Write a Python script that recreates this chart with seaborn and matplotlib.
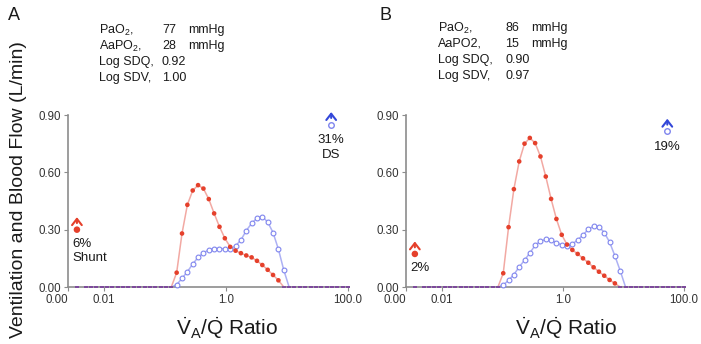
import numpy as np
import pandas as pd
import matplotlib
matplotlib.use("Agg")
import matplotlib.pyplot as plt
import seaborn as sns

# ---------------- data ----------------
# MIGET compartment grid (V/Q ratios)
vaq = np.logspace(np.log10(0.005), 2, 50)

# Panel A: blood flow (Q, red) and ventilation (V, blue), L/min
q_a = [0, 0, 0, 0, 0, 0, 0, 0, 0, 0, 0, 0, 0, 0, 0, 0, 0,
       0.075, 0.28, 0.43, 0.505, 0.533, 0.515, 0.46, 0.385, 0.315, 0.255,
       0.21, 0.19, 0.177, 0.165, 0.155, 0.137, 0.115, 0.09, 0.063, 0.035,
       0, 0, 0, 0, 0, 0, 0, 0, 0, 0, 0, 0, 0]
v_a = [0, 0, 0, 0, 0, 0, 0, 0, 0, 0, 0, 0, 0, 0, 0, 0, 0,
       0.012, 0.045, 0.08, 0.12, 0.155, 0.178, 0.195, 0.201, 0.201, 0.2,
       0.2, 0.215, 0.246, 0.295, 0.333, 0.36, 0.368, 0.34, 0.285, 0.198,
       0.089, 0, 0, 0, 0, 0, 0, 0, 0, 0, 0, 0, 0]
# Panel B
q_b = [0, 0, 0, 0, 0, 0, 0, 0, 0, 0, 0, 0, 0, 0, 0,
       0.072, 0.313, 0.512, 0.657, 0.75, 0.78, 0.753, 0.683, 0.578, 0.461,
       0.356, 0.273, 0.222, 0.194, 0.173, 0.150, 0.127, 0.103, 0.080, 0.059,
       0.037, 0.019, 0, 0, 0, 0, 0, 0, 0, 0, 0, 0, 0, 0, 0]
v_b = [0, 0, 0, 0, 0, 0, 0, 0, 0, 0, 0, 0, 0, 0, 0,
       0.01, 0.035, 0.065, 0.105, 0.14, 0.178, 0.218, 0.24, 0.249, 0.244,
       0.232, 0.22, 0.215, 0.225, 0.246, 0.272, 0.302, 0.318, 0.316, 0.285,
       0.235, 0.163, 0.085, 0, 0, 0, 0, 0, 0, 0, 0, 0, 0, 0, 0]

panel_letters = ["A", "B"]
stat_labels = [["PaO$_2$,", "AaPO$_2$,", "Log SDQ,", "Log SDV,"],
               ["PaO$_2$,", "AaPO2,", "Log SDQ,", "Log SDV,"]]
stat_values = [["77", "28", "0.92", "1.00"],
               ["86", "15", "0.90", "0.97"]]
stat_units = [["mmHg", "mmHg", "", ""],
              ["mmHg", "mmHg", "", ""]]
shunt_text = ["6%\nShunt", "2%"]
ds_text = ["31%\nDS", "19%"]
shunt_marker_y = [0.30, 0.173]
ds_marker_y = [0.85, 0.815]
shunt_x = 0.0036
ds_x = 53.0
x_left = 10 ** -2.59
xticks = [x_left, 0.01, 1.0, 100.0]
xticklabels = ["0.00", "0.01", "1.0", "100.0"]
yticks = [0.0, 0.3, 0.6, 0.9]
yticklabels = ["0.00", "0.30", "0.60", "0.90"]

# ---------------- style ----------------
sns.set_style("ticks")
plt.rcParams["font.family"] = ["Liberation Sans", "DejaVu Sans"]
plt.rcParams["mathtext.fontset"] = "custom"
plt.rcParams["mathtext.rm"] = "Liberation Sans"
plt.rcParams["mathtext.it"] = "Liberation Sans"
plt.rcParams["mathtext.bf"] = "Liberation Sans:bold"

RED_LINE = "#f2a9a3"
RED_MK = "#e5402b"
BLUE_LINE = "#adb1f4"
BLUE_MK = "#7f85ee"
BLUE_ARROW = "#3347d9"
ZERO_MK = "#7d4a9c"
AXIS_C = "#8c8c8c"
TXT = "#1a1a1a"

W, H = 701, 344
fig = plt.figure(figsize=(W / 100, H / 100), dpi=100)

axes_px = [(68, 280), (406, 278)]
series = [(q_a, v_a), (q_b, v_b)]
stat_x_px = [(99, 162, 188), (438, 505, 531)]
stat_y_px = [(30, 46, 62, 78), (28, 44, 60, 76)]
letter_px = [(14, 15), (385, 15)]
xlabel_px = [227, 566]

for i in range(2):
    q, v = series[i]
    left_px, width_px = axes_px[i]
    ax = fig.add_axes([left_px / W, (H - 287) / H, width_px / W, 172 / H])
    df = pd.DataFrame({"vaq": vaq, "Q": q, "V": v})

    sns.lineplot(data=df, x="vaq", y="Q", color=RED_LINE, lw=1.1, ax=ax, zorder=2)
    sns.lineplot(data=df, x="vaq", y="V", color=BLUE_LINE, lw=1.1, ax=ax, zorder=2)

    # zero-valued compartments along the baseline
    sns.scatterplot(data=df[df["V"] == 0], x="vaq", y="V", marker="_", s=8,
                    color=ZERO_MK, linewidth=1.3, ax=ax, zorder=4, clip_on=False)
    sns.scatterplot(data=df[df["Q"] == 0], x="vaq", y="Q", marker="_", s=8,
                    color=ZERO_MK, linewidth=1.3, ax=ax, zorder=4, clip_on=False)

    sns.scatterplot(data=df[df["V"] > 0], x="vaq", y="V", marker="o", s=12,
                    facecolor="white", edgecolor=BLUE_MK, linewidth=0.8,
                    ax=ax, zorder=5, clip_on=False)
    sns.scatterplot(data=df[df["Q"] > 0], x="vaq", y="Q", marker="o", s=11,
                    color=RED_MK, edgecolor="none", ax=ax, zorder=6, clip_on=False)

    # shunt (off-scale) marker
    sns.scatterplot(x=[shunt_x], y=[shunt_marker_y[i]], marker="o", s=22,
                    color=RED_MK, edgecolor="none", ax=ax, zorder=6, clip_on=False)
    sns.scatterplot(x=[shunt_x, shunt_x], y=[0, 0], marker="_", s=8,
                    color=ZERO_MK, linewidth=1.3, ax=ax, zorder=4, clip_on=False)
    ax.annotate("", xy=(shunt_x, shunt_marker_y[i] + 0.08),
                xytext=(shunt_x, shunt_marker_y[i] + 0.02),
                arrowprops=dict(arrowstyle="->,head_length=0.45,head_width=0.35",
                                color=RED_MK, lw=1.5), annotation_clip=False)
    ax.annotate(shunt_text[i], xy=(shunt_x, shunt_marker_y[i]), xytext=(-3, -6),
                textcoords="offset points", ha="left", va="top", fontsize=9.5,
                color=TXT, linespacing=1.25)

    # dead space (off-scale) marker
    sns.scatterplot(x=[ds_x], y=[ds_marker_y[i]], marker="o", s=16,
                    facecolor="white", edgecolor=BLUE_MK, linewidth=1.0,
                    ax=ax, zorder=6, clip_on=False)
    ax.annotate("", xy=(ds_x, ds_marker_y[i] + 0.08),
                xytext=(ds_x, ds_marker_y[i] + 0.02),
                arrowprops=dict(arrowstyle="->,head_length=0.45,head_width=0.35",
                                color=BLUE_ARROW, lw=1.5), annotation_clip=False)
    ax.annotate(ds_text[i], xy=(ds_x, ds_marker_y[i]), xytext=(0, -7),
                textcoords="offset points", ha="center", va="top", fontsize=9.5,
                color=TXT, linespacing=1.25)

    ax.set_xscale("log")
    ax.set_xlim(x_left, 100)
    ax.set_ylim(0, 0.9)
    ax.set_xticks(xticks)
    ax.set_xticklabels(xticklabels)
    ax.minorticks_off()
    ax.set_yticks(yticks)
    ax.set_yticklabels(yticklabels)
    ax.get_xticklabels()[0].set_horizontalalignment("right")
    ax.set_xlabel("")
    ax.set_ylabel("")
    for s in ["top", "right"]:
        ax.spines[s].set_visible(False)
    for s in ["left", "bottom"]:
        ax.spines[s].set_color(AXIS_C)
        ax.spines[s].set_linewidth(1.2)
    ax.tick_params(axis="both", length=3, width=0.8, color=AXIS_C,
                   labelsize=8.3, labelcolor="#333333", pad=2)
    ax.set_facecolor("none")

    # panel letter and statistics
    lx, ly = letter_px[i]
    fig.text(lx / W, 1 - ly / H, panel_letters[i], fontsize=13, ha="center",
             va="center", color=TXT)
    cx = stat_x_px[i]
    for r in range(4):
        yy = 1 - stat_y_px[i][r] / H
        fig.text(cx[0] / W, yy, stat_labels[i][r], fontsize=9, va="center", color=TXT)
        fig.text(cx[1] / W, yy, stat_values[i][r], fontsize=9, va="center", color=TXT)
        if stat_units[i][r]:
            fig.text(cx[2] / W, yy, stat_units[i][r], fontsize=9, va="center", color=TXT)

    fig.text(xlabel_px[i] / W, 1 - 328 / H,
             r"$\dot{\mathrm{V}}_{\mathrm{A}}/\dot{\mathrm{Q}}$ Ratio",
             fontsize=15, ha="center", va="center", color=TXT)

fig.text(19 / W, 1 - 190 / H, "Ventilation and Blood Flow (L/min)", rotation=90,
         fontsize=14, ha="center", va="center", color=TXT)

fig.savefig("out.png", dpi=100)
